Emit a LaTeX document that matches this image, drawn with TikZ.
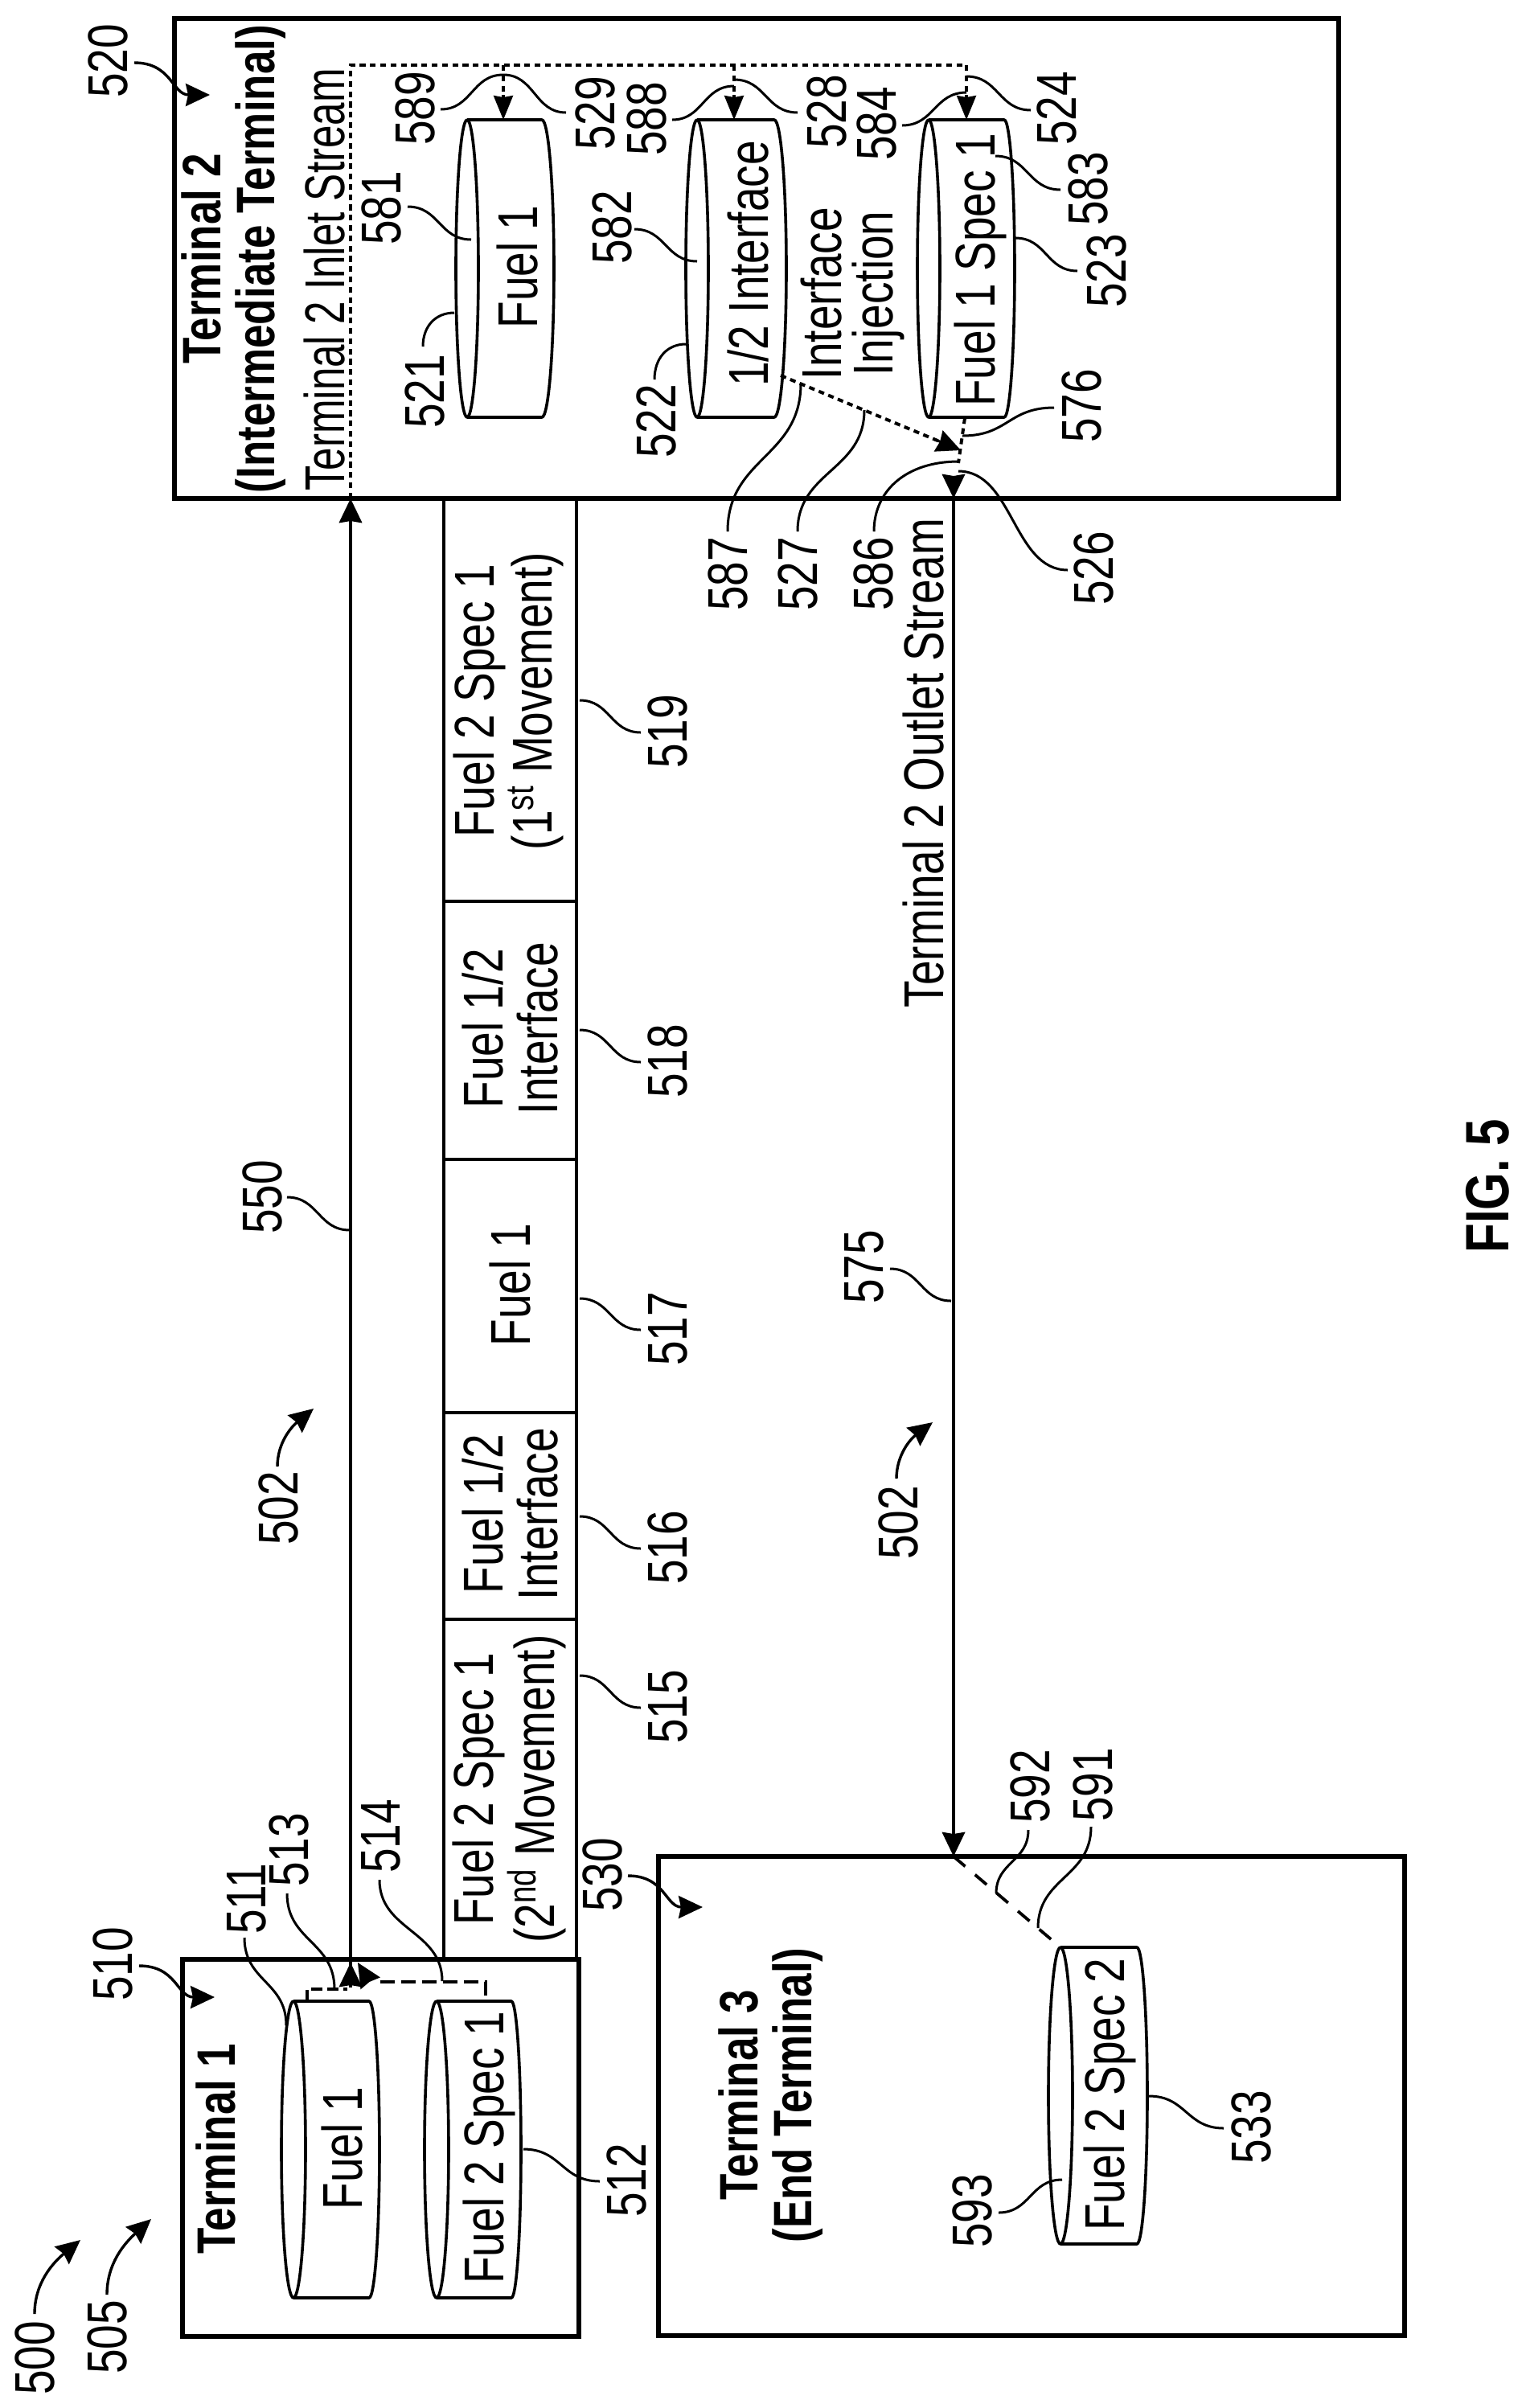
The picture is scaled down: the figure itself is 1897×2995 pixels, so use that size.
\documentclass[tikz,border=0pt]{standalone}
\usepackage{fontspec}
\setmainfont{Liberation Sans}
\usetikzlibrary{arrows.meta,calc,fit}
\tikzset{
  lab/.style={rotate=90,yscale=1.27,anchor=base,align=center,inner sep=0pt,font=\fontsize{27.5}{26.5}\selectfont},
  blab/.style={lab,font=\bfseries\fontsize{26.5}{26}\selectfont},
  figlab/.style={lab,font=\bfseries\fontsize{30}{30}\selectfont},
  box/.style={draw,line width=3pt,inner sep=0pt,rectangle},
  cell/.style={draw,line width=2.3pt,inner sep=0pt,rectangle},
  tankline/.style={line width=1.8pt,line join=round},
  lead/.style={line width=1.5pt},
  pipe/.style={line width=2.3pt},
  head/.style={-{Stealth[length=15pt,width=14pt,inset=1pt]}},
  dots/.style={line width=2pt,dash pattern=on 3.6pt off 2.8pt},
  ldash/.style={line width=1.9pt,dash pattern=on 9pt off 4pt},
  sdash/.style={line width=1.9pt,dash pattern=on 9.5pt off 8pt},
}
% leader curves: horizontal-tangent S, vertical-tangent S, quarter curve
\newcommand{\leadh}[4][lead]{\coordinate (#2s) at (#3);\coordinate (#2e) at (#4);
  \coordinate (#2m) at ($(#2s)!.5!(#2e)$);
  \draw[#1] (#2s) .. controls (#2m |- #2s) and (#2m |- #2e) .. (#2e);}
\newcommand{\leadv}[4][lead]{\coordinate (#2s) at (#3);\coordinate (#2e) at (#4);
  \coordinate (#2m) at ($(#2s)!.5!(#2e)$);
  \draw[#1] (#2s) .. controls (#2s |- #2m) and (#2e |- #2m) .. (#2e);}
\newcommand{\leadq}[4][lead]{\coordinate (#2s) at (#3);\coordinate (#2e) at (#4);
  \coordinate (#2c) at (#2s |- #2e);
  \draw[#1] (#2s) .. controls ($(#2s)!.6!(#2c)$) and ($(#2e)!.6!(#2c)$) .. (#2e);}
% tank: cx, top, bottom, right, rx, bulge
\newcommand{\tank}[7]{%
  \pgfmathsetmacro{\tmid}{(#3+#4)/2}\pgfmathsetmacro{\thh}{(#4-#3)/2}%
  \pgfmathsetmacro{\tk}{0.5523*\thh}\pgfmathsetmacro{\ta}{#5+0.5523*#7}\pgfmathsetmacro{\tb}{#5+#7}%
  \coordinate (#1top) at (#2,#3);\coordinate (#1bot) at (#2,#4);
  \draw[tankline] (#2,\tmid) ellipse [x radius=#6,y radius=\thh];
  \draw[tankline] (#2,#3) -- (#5,#3) .. controls (\ta,#3) and (\tb,\tmid-\tk) .. (\tb,\tmid)
     .. controls (\tb,\tmid+\tk) and (\ta,#4) .. (#5,#4) -- (#2,#4);
}
\begin{document}
\begin{tikzpicture}[x=0.5pt,y=-0.5pt]
\useasboundingbox (0,0) rectangle (1897,2995);
\fill[white] (0,0) rectangle (1897,2995);

% terminals
\coordinate (t2a) at (217,23);\coordinate (t2b) at (1665,620);
\node[box,fit=(t2a)(t2b)] (T2) {};
\coordinate (t1a) at (227,2437);\coordinate (t1b) at (720,2906);
\node[box,fit=(t1a)(t1b)] (T1) {};
\coordinate (t3a) at (819,2309);\coordinate (t3b) at (1747,2905);
\node[box,fit=(t3a)(t3b)] (T3) {};

% batch cells
\coordinate (c0) at (552,620);\coordinate (c1) at (717,1121);\coordinate (c1l) at (552,1121);
\coordinate (c2) at (717,1442);\coordinate (c2l) at (552,1442);
\coordinate (c3) at (717,1757);\coordinate (c3l) at (552,1757);
\coordinate (c4) at (717,2014);\coordinate (c4l) at (552,2014);
\coordinate (c5) at (717,2437);
\node[cell,fit=(c0)(c1)] (b519) {};
\node[cell,fit=(c1l)(c2)] (b518) {};
\node[cell,fit=(c2l)(c3)] (b517) {};
\node[cell,fit=(c3l)(c4)] (b516) {};
\node[cell,fit=(c4l)(c5)] (b515) {};

% tanks
\tank{a}{581}{149}{519}{674}{14}{15}
\tank{b}{867}{149}{519}{963}{14}{15}
\tank{c}{1155}{149}{519}{1249}{14}{13}
\tank{d}{365}{2489}{2858}{459}{15}{13}
\tank{e}{543}{2489}{2858}{636}{15}{12}
\tank{f}{1319}{2422}{2791}{1414}{15}{13}

% streams
\coordinate (in0) at (436,2470);\coordinate (in1) at (436,620);
\draw[pipe,head] (in0) -- (in1);
\coordinate (in00) at (436,2472);\coordinate (in01) at (436,2441);
\draw[pipe,head] (in00) -- (in01);
\coordinate (tl) at (436,81);\coordinate (tr) at (1202,81);
\draw[dots] (in1) -- (tl) -- (tr);
\coordinate (ta1) at (626,81);\coordinate (ta2) at (626,149);
\coordinate (tb1) at (913,81);\coordinate (tb2) at (913,149);
\coordinate (tc2) at (1202,149);
\draw[dots,line width=1.8pt] (ta1) -- (626,120);
\draw[pipe,line width=1.6pt,-{Stealth[length=15pt,width=12pt,inset=1pt]}] (626,118) -- (ta2);
\draw[dots,line width=1.8pt] (tb1) -- (913,120);
\draw[pipe,line width=1.6pt,-{Stealth[length=15pt,width=12pt,inset=1pt]}] (913,118) -- (tb2);
\draw[dots,line width=1.8pt] (tr) -- (1202,120);
\draw[pipe,line width=1.6pt,-{Stealth[length=15pt,width=12pt,inset=1pt]}] (1202,118) -- (tc2);

% injection
\coordinate (inja) at (971,467);\coordinate (injb) at (1195,560);
\draw[dots] (inja) -- ($(inja)!.88!(injb)$);
\draw[line width=1.5pt,-{Stealth[length=15pt,width=14pt,inset=1pt]}] ($(inja)!.85!(injb)$) -- (injb);
\coordinate (oa) at (1200,520);\coordinate (ob) at (1192,576);
\draw[dots] (oa) -- (ob);

% outlet
\coordinate (o1) at (1186,592);\coordinate (o2) at (1186,620);\coordinate (o3) at (1186,2309);
\draw[pipe,head] (o1) -- (o2);
\draw[pipe,head] (o2) -- (o3);
\coordinate (d3) at (1319,2422);
\draw[sdash] (o3) -- (d3);

% terminal 1 dashed
\coordinate (p1) at (382,2489);\coordinate (p2) at (382,2474);\coordinate (p3) at (432,2474);
\draw[ldash,dash pattern=on 7pt off 3pt] (p1) -- (p2) -- (p3);
\coordinate (q1) at (604,2482);\coordinate (q2) at (604,2465);\coordinate (q3) at (466,2465);
\draw[ldash] (q1) -- (q2) -- (q3);
\coordinate (h1) at (459,2464);\coordinate (h2) at (445,2441);
\draw[pipe,line width=1.5pt,-{Stealth[length=15pt,width=14pt,inset=1pt]}] (h1) -- (h2);

% text
\node[blab] (tT2) at (341,322) {Terminal 2\\(Intermediate Terminal)};
\node[lab,xscale=.93] (tIn) at (428,348) {Terminal 2 Inlet Stream};
\node[lab] (tF1a) at (668,332) {Fuel 1};
\node[lab] (tIf) at (955,328) {1/2 Interface};
\node[lab] (tF1s) at (1237,336) {Fuel 1 Spec 1};
\node[lab,font=\fontsize{27.5}{25}\selectfont] (tIj) at (1110,365) {Interface\\Injection};
\node[lab] (tOut) at (1173,949) {Terminal 2 Outlet Stream};
\node[lab] (t519) at (686,872) {Fuel 2 Spec 1\\(1\textsuperscript{st} Movement)};
\node[lab] (t518) at (693,1279) {Fuel 1/2\\Interface};
\node[lab] (t517) at (659,1598) {Fuel 1};
\node[lab] (t516) at (693,1883) {Fuel 1/2\\Interface};
\node[lab] (t515) at (689,2225) {Fuel 2 Spec 1\\(2\textsuperscript{nd} Movement)};
\node[blab] (tT1) at (292,2673) {Terminal 1};
\node[lab] (tF1d) at (450,2672) {Fuel 1};
\node[lab] (tF2e) at (626,2671) {Fuel 2 Spec 1};
\node[blab] (tT3) at (1009,2606) {Terminal 3\\(End Terminal)};
\node[lab] (tF2f) at (1398,2605) {Fuel 2 Spec 2};
\node[figlab] (tFig) at (1876,1475) {FIG. 5};

% reference numbers
\node[lab] (n520) at (158,76) {520};
\node[lab] (n589) at (540,135) {589};
\node[lab] (n529) at (764,141) {529};
\node[lab] (n588) at (828,148) {588};
\node[lab] (n528) at (1052,139) {528};
\node[lab] (n584) at (1114,154) {584};
\node[lab] (n524) at (1338,135) {524};
\node[lab] (n583) at (1377,235) {583};
\node[lab] (n523) at (1400,337) {523};
\node[lab] (n576) at (1369,505) {576};
\node[lab] (n526) at (1384,707) {526};
\node[lab] (n586) at (1110,714) {586};
\node[lab] (n527) at (1016,714) {527};
\node[lab] (n587) at (929,714) {587};
\node[lab] (n522) at (840,524) {522};
\node[lab] (n582) at (785,283) {582};
\node[lab] (n521) at (552,487) {521};
\node[lab] (n581) at (498,259) {581};
\node[lab] (n519) at (854,910) {519};
\node[lab] (n518) at (854,1320) {518};
\node[lab] (n517) at (854,1653) {517};
\node[lab] (n516) at (854,1925) {516};
\node[lab] (n515) at (854,2123) {515};
\node[lab] (n550) at (350,1489) {550};
\node[lab] (n575) at (1098,1576) {575};
\node[lab] (n502a) at (370,1876) {502};
\node[lab] (n502b) at (1141,1894) {502};
\node[lab] (n510) at (164,2443) {510};
\node[lab] (n511) at (330,2362) {511};
\node[lab] (n513) at (383,2301) {513};
\node[lab] (n514) at (497,2284) {514};
\node[lab] (n530) at (773,2332) {530};
\node[lab] (n512) at (803,2712) {512};
\node[lab] (n505) at (157,2907) {505};
\node[lab] (n500) at (68,2933) {500};
\node[lab] (n592) at (1305,2222) {592};
\node[lab] (n591) at (1383,2220) {591};
\node[lab] (n533) at (1580,2646) {533};
\node[lab] (n593) at (1233,2750) {593};

% leaders
\leadh{l589}{548,136}{626,93}
\leadh{l529}{704,140}{626,93}
\leadh{l588}{836,149}{913,107}
\leadh{l528}{992,140}{913,99}
\leadh{l584}{1122,156}{1202,115}
\leadh{l524}{1282,137}{1202,95}
\leadh{l583}{1319,236}{1238,194}
\leadh{l523}{1340,337}{1263,296}
\leadh{l581}{507,257}{586,298}
\leadh{l582}{789,285}{867,325}
\leadq{l521}{526,431}{565,389}
\leadq{l522}{814,472}{853,428}
\leadh{l576}{1311,507}{1197,542}
\leadh{l526}{1328,709}{1192,586}
\leadq{l586}{1087,661}{1192,574}
\leadv{l527}{992,661}{1075,510}
\leadv{l587}{905,661}{996,477}
\leadh{l519}{721,871}{797,911}
\leadh{l518}{721,1281}{797,1321}
\leadh{l517}{721,1615}{797,1654}
\leadh{l516}{721,1886}{797,1926}
\leadh{l515}{721,2084}{797,2124}
\leadh{l550}{357,1489}{435,1530}
\leadh{l575}{1107,1578}{1183,1618}
\leadv{l511}{304,2410}{356,2519}
\leadv{l513}{357,2355}{416,2474}
\leadv{l514}{472,2338}{550,2464}
\leadh{l512}{651,2673}{746,2713}
\leadv{l592}{1279,2276}{1239,2355}
\leadv{l591}{1357,2272}{1291,2398}
\leadh{l533}{1429,2607}{1522,2647}
\leadh{l593}{1242,2752}{1321,2711}

% arrowed leaders
\tikzset{larrow/.style={line width=1.7pt,-{Stealth[length=15pt,width=14pt,inset=1.5pt]}}}
\leadh[larrow]{a520}{167,78}{261,118}
\leadh[larrow]{a510}{173,2445}{267,2484}
\leadh[larrow]{a530}{781,2333}{874,2372}
\coordinate (a505s) at (133,2854);\coordinate (a505e) at (188,2760);
\draw[larrow] (a505s) .. controls (133,2815) and (155,2790) .. (a505e);
\coordinate (a500s) at (43,2878);\coordinate (a500e) at (100,2786);
\draw[larrow] (a500s) .. controls (43,2840) and (65,2815) .. (a500e);
\coordinate (a502s) at (345,1824);\coordinate (a502e) at (390,1752);
\draw[larrow] (a502s) .. controls (345,1795) and (362,1775) .. (a502e);
\coordinate (b502s) at (1115,1839);\coordinate (b502e) at (1160,1769);
\draw[larrow] (b502s) .. controls (1115,1810) and (1132,1790) .. (b502e);
\end{tikzpicture}
\end{document}
